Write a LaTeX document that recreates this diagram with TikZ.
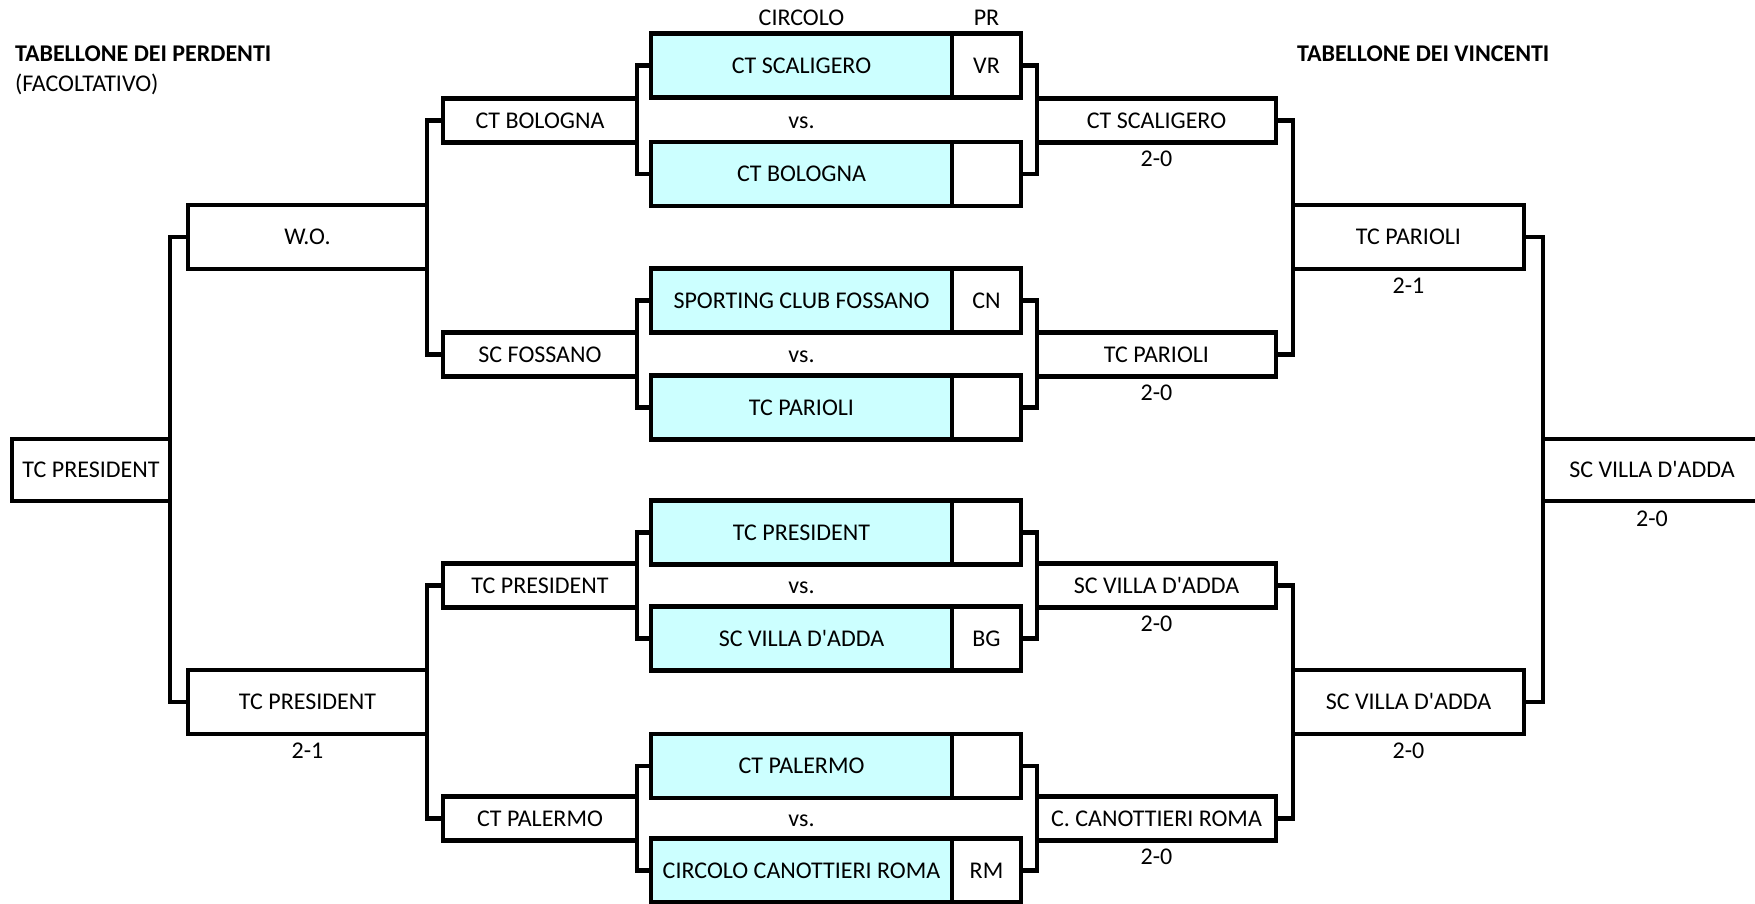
\documentclass[tikz,border=0pt]{standalone}
\usepackage{fontspec}
\setmainfont{Carlito}
\usetikzlibrary{positioning}
\definecolor{celeste}{RGB}{204,255,255}

\begin{document}
\begin{tikzpicture}[x=1pt, y=-1pt,
  testo/.style={font=\fontsize{24}{28}\selectfont, inner sep=0pt, outer sep=0pt, text height=15.5pt, text depth=0pt},
  titolo/.style={testo, font=\fontsize{24}{28}\selectfont\bfseries, anchor=west},
  casella/.style={testo, draw, line width=4.3pt},
  squadra/.style={casella, fill=celeste, minimum width=301pt, minimum height=64pt},
  sigla/.style={casella, minimum width=69pt, minimum height=64pt},
  turno/.style={casella, minimum height=44pt},
  girone/.style={casella, minimum height=64pt},
  ramo/.style={line width=4.3pt},
]
\useasboundingbox (0,0) rectangle (1755,904);

\node[titolo] (perdenti) at (15,54) {TABELLONE DEI PERDENTI};
\node[testo, anchor=west] (facolt) at (15,84) {(FACOLTATIVO)};
\node[titolo] (vincenti) at (1297,54) {TABELLONE DEI VINCENTI};
\node[testo] (circolo) at (801.5,18) {CIRCOLO};
\node[testo] (pr) at (986.5,18) {PR};

% primo turno
\node[squadra] (c1) at (801.5,65.5) {CT SCALIGERO};
\node[sigla] (p1) at (986.5,65.5) {VR};
\node[squadra] (c2) at (801.5,174) {CT BOLOGNA};
\node[sigla] (p2) at (986.5,174) {};
\node[squadra] (c3) at (801.5,300.5) {SPORTING CLUB FOSSANO};
\node[sigla] (p3) at (986.5,300.5) {CN};
\node[squadra] (c4) at (801.5,407.5) {TC PARIOLI};
\node[sigla] (p4) at (986.5,407.5) {};
\node[squadra] (c5) at (801.5,532.5) {TC PRESIDENT};
\node[sigla] (p5) at (986.5,532.5) {};
\node[squadra] (c6) at (801.5,638.5) {SC VILLA D\textquotesingle ADDA};
\node[sigla] (p6) at (986.5,638.5) {BG};
\node[squadra] (c7) at (801.5,766) {CT PALERMO};
\node[sigla] (p7) at (986.5,766) {};
\node[squadra] (c8) at (801.5,870.5) {CIRCOLO CANOTTIERI ROMA};
\node[sigla] (p8) at (986.5,870.5) {RM};

\node[testo] (vs1) at (801.5,120.5) {vs.};
\node[testo] (vs2) at (801.5,354.5) {vs.};
\node[testo] (vs3) at (801.5,585.5) {vs.};
\node[testo] (vs4) at (801.5,818.5) {vs.};

% secondo turno
\node[turno, minimum width=194pt] (lb1) at (540,120.5) {CT BOLOGNA};
\node[turno, minimum width=194pt] (lb2) at (540,354.5) {SC FOSSANO};
\node[turno, minimum width=194pt] (lb3) at (540,585.5) {TC PRESIDENT};
\node[turno, minimum width=194pt] (lb4) at (540,818.5) {CT PALERMO};
\node[turno, minimum width=239pt] (rb1) at (1156.5,120.5) {CT SCALIGERO};
\node[turno, minimum width=239pt] (rb2) at (1156.5,354.5) {TC PARIOLI};
\node[turno, minimum width=239pt] (rb3) at (1156.5,585.5) {SC VILLA D\textquotesingle ADDA};
\node[turno, minimum width=239pt] (rb4) at (1156.5,818.5) {C. CANOTTIERI ROMA};

% semifinali e finali
\node[girone, minimum width=239pt] (lr3a) at (307.5,237) {W.O.};
\node[girone, minimum width=239pt] (lr3b) at (307.5,702) {TC PRESIDENT};
\node[girone, minimum width=231pt] (rr3a) at (1408.5,237) {TC PARIOLI};
\node[girone, minimum width=231pt] (rr3b) at (1408.5,702) {SC VILLA D\textquotesingle ADDA};
\node[girone, minimum width=158pt, minimum height=62pt] (lfin) at (91,470) {TC PRESIDENT};
\node[girone, minimum width=218pt, minimum height=62pt] (rfin) at (1652,470) {SC VILLA D\textquotesingle ADDA};

% punteggi
\node[testo, below=8.5pt of rb1] (s1) {2-0};
\node[testo, below=8.5pt of rb2] (s2) {2-0};
\node[testo, below=8.5pt of rb3] (s3) {2-0};
\node[testo, below=8.5pt of rb4] (s4) {2-0};
\node[testo, below=8.5pt of rr3a] (s5) {2-1};
\node[testo, below=8.5pt of rr3b] (s6) {2-0};
\node[testo, below=9.5pt of rfin] (s7) {2-0};
\node[testo, below=8.5pt of lr3b] (s8) {2-1};

% rami del tabellone
\draw[ramo] (c1.west) -| (lb1.east) |- (c2.west);
\draw[ramo] (c3.west) -| (lb2.east) |- (c4.west);
\draw[ramo] (c5.west) -| (lb3.east) |- (c6.west);
\draw[ramo] (c7.west) -| (lb4.east) |- (c8.west);
\draw[ramo] (lb1.west) -| (lr3a.east) |- (lb2.west);
\draw[ramo] (lb3.west) -| (lr3b.east) |- (lb4.west);
\draw[ramo] (lr3a.west) -| (lfin.east) |- (lr3b.west);

\draw[ramo] (p1.east) -| (rb1.west) |- (p2.east);
\draw[ramo] (p3.east) -| (rb2.west) |- (p4.east);
\draw[ramo] (p5.east) -| (rb3.west) |- (p6.east);
\draw[ramo] (p7.east) -| (rb4.west) |- (p8.east);
\draw[ramo] (rb1.east) -| (rr3a.west) |- (rb2.east);
\draw[ramo] (rb3.east) -| (rr3b.west) |- (rb4.east);
\draw[ramo] (rr3a.east) -| (rfin.west) |- (rr3b.east);
\end{tikzpicture}
\end{document}
